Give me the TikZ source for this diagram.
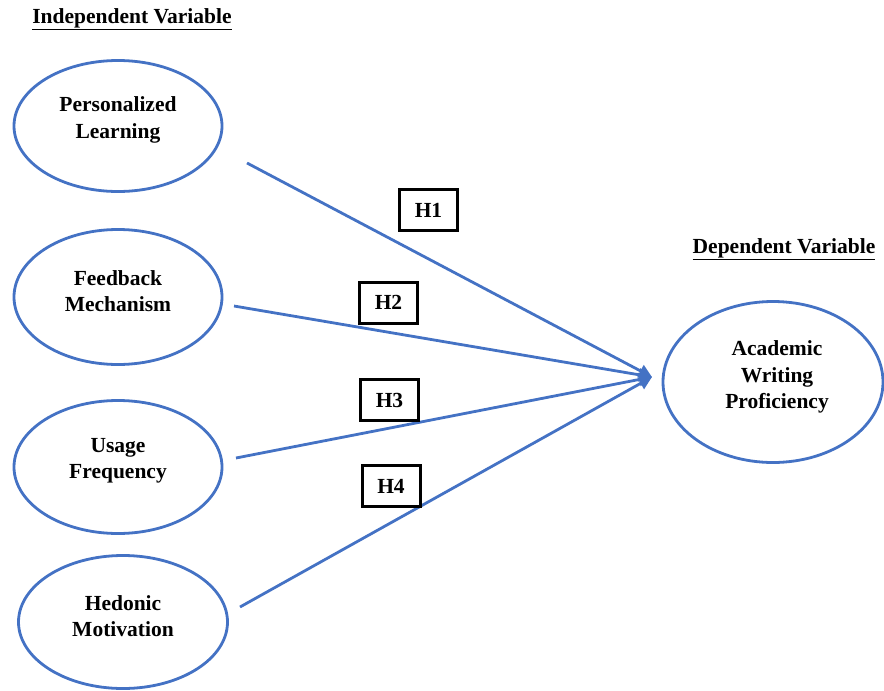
\documentclass[tikz,border=0pt]{standalone}
\usepackage{fontspec}
\setmainfont{Liberation Serif}
\usetikzlibrary{shapes.geometric,arrows.meta}
\definecolor{lineblue}{HTML}{4472C4}
\begin{document}
\begin{tikzpicture}[x=1pt,y=-1pt,
  txt/.style={font=\bfseries\fontsize{21.5}{26.5}\selectfont, align=center, inner sep=0pt},
  var/.style={ellipse, draw=lineblue, line width=2.8pt, inner sep=0pt},
  hbox/.style={draw=black, line width=3pt, minimum width=58pt, minimum height=41pt, inner sep=0pt, font=\bfseries\fontsize{21.5}{26}\selectfont},
  link/.style={draw=lineblue, line width=2.8pt, -{Triangle[length=13pt,width=13pt]}}
]
\useasboundingbox (0,0) rectangle (884,691);
% titles
\node[txt] (tind) at (132,19) {\underline{Independent Variable}};
\node[txt] (tdep) at (784,249) {\underline{Dependent Variable}};
% ellipses
\node[var, minimum width=208pt, minimum height=131pt] (e1) at (118,126) {};
\node[var, minimum width=208pt, minimum height=135pt] (e2) at (118,297) {};
\node[var, minimum width=208pt, minimum height=133pt] (e3) at (118,467) {};
\node[var, minimum width=209pt, minimum height=133pt] (e4) at (123,622) {};
\node[var, minimum width=220pt, minimum height=161pt] (ea) at (773,382) {};
% ellipse texts
\node[txt] (l1) at ([yshift=6pt]e1.center) {Personalized\\Learning};
\node[txt] (l2) at ([yshift=6pt]e2.center) {Feedback\\Mechanism};
\node[txt] (l3) at ([yshift=6pt]e3.center) {Usage\\Frequency};
\node[txt] (l4) at ([yshift=6pt]e4.center) {Hedonic\\Motivation};
\node[txt] (la) at ([xshift=4pt,yshift=5pt]ea.center) {Academic\\Writing\\Proficiency};
% connector end points
\coordinate (s1) at (247,163);
\coordinate (s2) at (234,306);
\coordinate (s3) at (236,458);
\coordinate (s4) at (240,607);
\coordinate (tip) at (652,377);
\draw[link] (s1) -- (tip);
\draw[link] (s2) -- (tip);
\draw[link] (s3) -- (tip);
\draw[link] (s4) -- (tip);
% hypothesis boxes
\node[hbox] (h1) at (428.5,210) {H1};
\node[hbox] (h2) at (388.5,302.5) {H2};
\node[hbox] (h3) at (389.5,400) {H3};
\node[hbox] (h4) at (391,486) {H4};
\end{tikzpicture}
\end{document}
